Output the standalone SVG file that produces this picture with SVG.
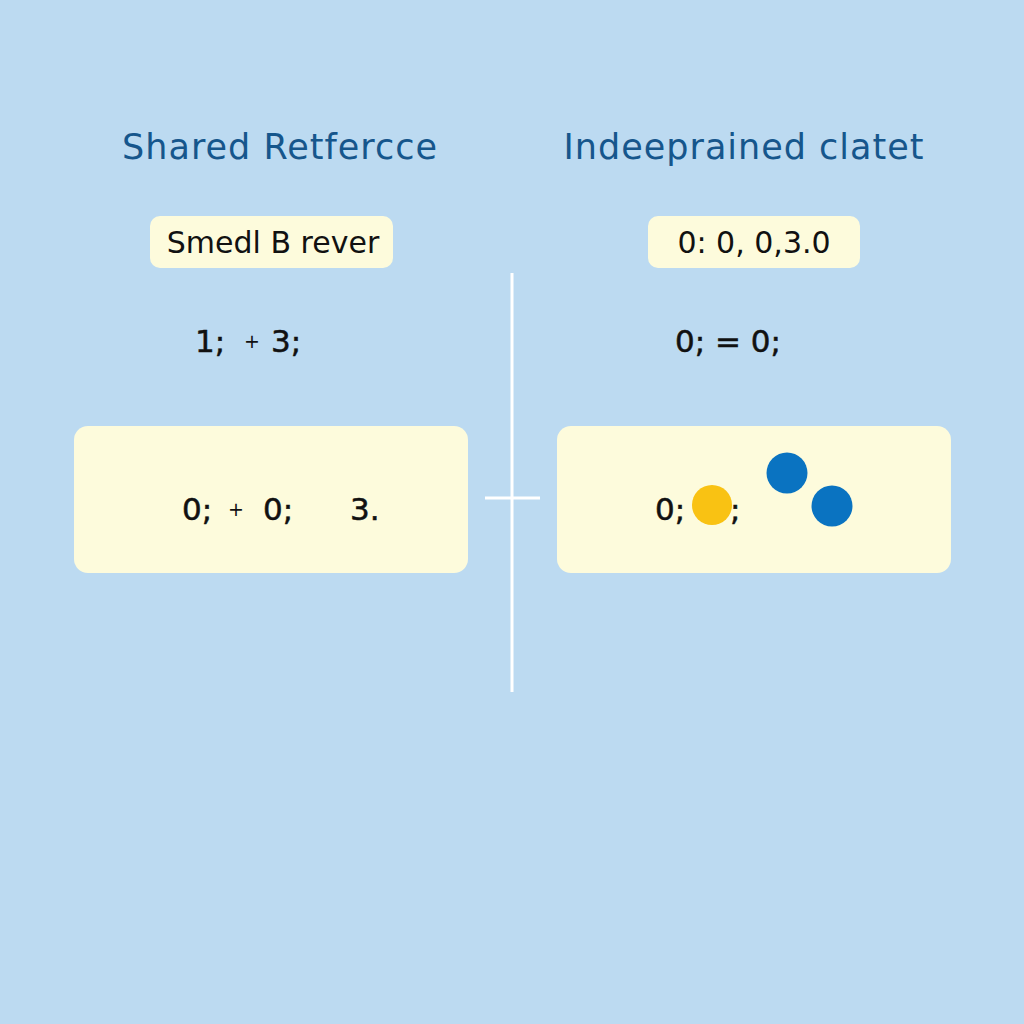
<svg xmlns="http://www.w3.org/2000/svg" width="1024" height="1024" viewBox="0 0 1024 1024">
<style>
.title{font-family:"DejaVu Sans",sans-serif;font-size:35px;fill:#16568c;text-anchor:middle;letter-spacing:1px}
.lbl{font-family:"DejaVu Sans",sans-serif;font-size:30px;fill:#111}
.num{font-family:"DejaVu Sans",sans-serif;font-size:31px;fill:#111;stroke:#111;stroke-width:0.5}
.plus{font-family:"DejaVu Sans",sans-serif;font-size:19px;fill:#111}
.pill{fill:#fdfbdc}
.line{stroke:#ffffff;stroke-width:3;fill:none}
</style>
<rect width="1024" height="1024" fill="#bcdaf1"/>
<g id="title-left"><text class="title" x="280" y="159">Shared Retfercce</text></g>
<g id="title-right"><text class="title" x="744" y="159">Indeeprained clatet</text></g>
<g id="pill-left"><rect class="pill" x="150" y="216" width="243" height="52" rx="10"/><text class="lbl" x="273" y="253" text-anchor="middle">Smedl B rever</text></g>
<g id="pill-right"><rect class="pill" x="648" y="216" width="212" height="52" rx="10"/><text class="lbl" x="754" y="253" text-anchor="middle">0: 0, 0,3.0</text></g>
<g id="expr-left"><text class="num" x="195" y="352">1;</text><text class="plus" x="244" y="348">+</text><text class="num" x="271" y="352">3;</text></g>
<g id="expr-right"><text class="num" x="675" y="352">0; = 0;</text></g>
<g id="connectors">
<line class="line" x1="512" y1="273" x2="512" y2="692"/>
<line class="line" x1="485" y1="498" x2="540" y2="498"/>
</g>
<g id="box-left"><rect class="pill" x="74" y="426" width="394" height="147" rx="14"/>
<text class="num" x="182" y="520">0;</text><text class="plus" x="228" y="516">+</text><text class="num" x="263" y="520">0;</text><text class="num" x="350" y="520">3.</text></g>
<g id="box-right"><rect class="pill" x="557" y="426" width="394" height="147" rx="14"/>
<text class="num" x="655" y="520">0;</text><text class="num" x="730" y="520">;</text>
<circle cx="712" cy="505" r="20" fill="#f9c213"/>
<circle cx="787" cy="473" r="20.5" fill="#0a73c1"/>
<circle cx="832" cy="506" r="20.5" fill="#0a73c1"/></g>
</svg>
